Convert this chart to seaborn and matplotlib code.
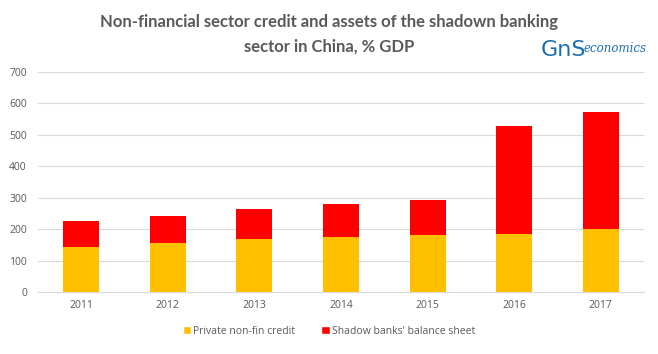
import matplotlib
matplotlib.use("Agg")
import matplotlib.pyplot as plt
import seaborn as sns
import pandas as pd
from matplotlib.patches import Patch

years = ["2011", "2012", "2013", "2014", "2015", "2016", "2017"]
private_credit = [144, 157, 169, 175, 180, 185, 200]
shadow_banks = [82, 86, 95, 105, 113, 343, 373]
yticks = [0, 100, 200, 300, 400, 500, 600, 700]

totals = [a + b for a, b in zip(private_credit, shadow_banks)]
df = pd.DataFrame({"year": years, "private": private_credit, "total": totals})

sns.set_theme(style="white")
plt.rcParams["font.family"] = ["Open Sans", "DejaVu Sans"]

fig = plt.figure(figsize=(6.58, 3.54), dpi=100)
ax = fig.add_axes([38 / 658, 1 - 292 / 354, 606 / 658, 220 / 354])

yellow = "#FFC000"
red = "#FF0000"
sns.barplot(data=df, x="year", y="total", color=red, width=0.415, ax=ax,
            saturation=1, zorder=3, linewidth=0)
sns.barplot(data=df, x="year", y="private", color=yellow, width=0.415, ax=ax,
            saturation=1, zorder=3, linewidth=0)

ax.set_ylim(0, 700)
ax.set_yticks(yticks)
ax.set_xlim(-0.5, 6.5)
ax.grid(axis="y", color="#d9d9d9", linewidth=0.8, zorder=0)
for s in ["top", "right", "left"]:
    ax.spines[s].set_visible(False)
ax.spines["bottom"].set_color("#d9d9d9")
ax.spines["bottom"].set_linewidth(0.8)
ax.set_xlabel("")
ax.set_ylabel("")
ax.tick_params(axis="both", length=0, labelsize=7.5, labelcolor="#595959")
ax.tick_params(axis="y", pad=8)
ax.tick_params(axis="x", pad=6)

fig.text(0.5, 1 - 22 / 354, "Non-financial sector credit and assets of the shadown banking",
         ha="center", va="center", fontsize=12, fontweight="bold", color="#595959",
         family=["Lato", "DejaVu Sans"])
fig.text(0.5, 1 - 47 / 354, "sector in China, % GDP",
         ha="center", va="center", fontsize=12, fontweight="bold", color="#595959",
         family=["Lato", "DejaVu Sans"])

# logo
fig.text(541 / 658, 1 - 50 / 354, "GnS", ha="left", va="center", fontsize=16,
         color="#1f6fb0", family=["DejaVu Sans Condensed", "DejaVu Sans"])
fig.text(583 / 658, 1 - 48 / 354, "economics", ha="left", va="center", fontsize=8.5,
         color="#1f6fb0", family=["DejaVu Serif"], style="italic")

handles = [Patch(facecolor=yellow, label="Private non-fin credit"),
           Patch(facecolor=red, label="Shadow banks' balance sheet")]
fig.legend(handles=handles, loc="center", bbox_to_anchor=(0.5, 1 - 331 / 354),
           ncol=2, frameon=False, fontsize=7.5, labelcolor="#595959",
           handlelength=0.8, handleheight=0.8, handletextpad=0.2, columnspacing=2.5)

fig.savefig("out.png", dpi=100)
